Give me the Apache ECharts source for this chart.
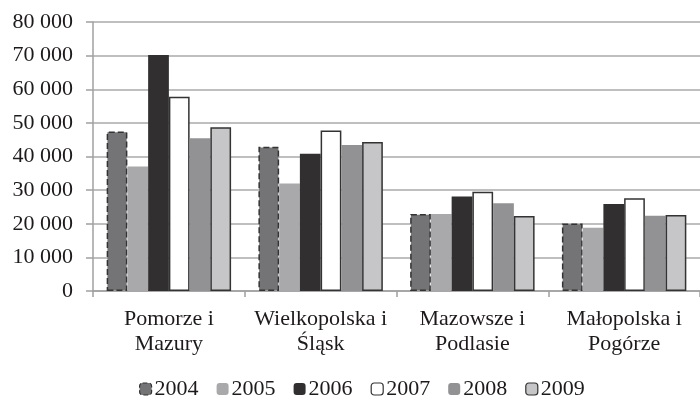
<!DOCTYPE html>
<html><head><meta charset="utf-8">
<script src="https://cdn.jsdelivr.net/npm/echarts@6/dist/echarts.min.js"></script>
<style>html,body{margin:0;padding:0;background:#fff}#c{width:700px;height:401px}</style>
</head><body><div id="c"></div>
<script>
const categories = ['Pomorze i\nMazury', 'Wielkopolska i\nŚląsk', 'Mazowsze i\nPodlasie', 'Małopolska i\nPogórze'];
const years = ['2004', '2005', '2006', '2007', '2008', '2009'];
const v2004 = [47400, 42900, 22900, 20100];
const v2005 = [37000, 32000, 22900, 18800];
const v2006 = [70200, 40800, 28100, 25900];
const v2007 = [57800, 47700, 29500, 27600];
const v2008 = [45400, 43400, 26100, 22400];
const v2009 = [48700, 44300, 22300, 22600];
const yTicks = [0, 10000, 20000, 30000, 40000, 50000, 60000, 70000, 80000];

const values = [v2004, v2005, v2006, v2007, v2008, v2009];
const colors = ['#747477', '#a9a9ab', '#312f30', '#ffffff', '#929295', '#c6c6c8'];
const borders = [
  {borderColor:'#333', borderWidth:1.5, borderType:'dashed'},
  {borderWidth:0},
  {borderWidth:0},
  {borderColor:'#333', borderWidth:1.5},
  {borderWidth:0},
  {borderColor:'#333', borderWidth:1.5}
];
const font = '"Liberation Serif", "Times New Roman", serif';
const txt = '#1e1a1b';
const chart = echarts.init(document.getElementById('c'), null, {renderer:'canvas'});
chart.setOption({
  animation: false,
  textStyle: {fontFamily: font},
  grid: {left: 93, top: 22, width: 613, bottom: 110, containLabel: false},
  legend: {
    left: 139, top: 378, padding: 0, itemWidth: 12, itemHeight: 12, itemGap: 18,
    textStyle: {fontFamily: font, fontSize: 22, color: txt, padding: [0,0,0,-2]},
    data: years.map((y,i) => ({name: y, itemStyle: Object.assign({color: colors[i]}, borders[i].borderWidth ? {borderColor:'#333', borderWidth:1.2, borderType: borders[i].borderType || 'solid'} : {})}))
  },
  xAxis: {
    type: 'category', data: categories,
    axisLine: {lineStyle: {color: '#a0a0a0', width: 1.5}},
    axisTick: {show: true, length: 6, lineStyle: {color: '#a0a0a0', width: 1.5}},
    axisLabel: {fontFamily: font, fontSize: 22, color: txt, lineHeight: 25, margin: 16, interval: 0}
  },
  yAxis: {
    type: 'value', min: yTicks[0], max: yTicks[yTicks.length-1], interval: 10000,
    axisLine: {show: true, lineStyle: {color: '#a0a0a0', width: 1.5}},
    axisTick: {show: true, length: 7, lineStyle: {color: '#a0a0a0', width: 1.5}},
    splitLine: {lineStyle: {color: '#aaaaaa', width: 1.5}},
    axisLabel: {fontFamily: font, fontSize: 22, color: txt, margin: 20,
      formatter: v => String(v).replace(/\B(?=(\d{3})+(?!\d))/g, ' ')}
  },
  series: years.map((y,i) => ({
    name: y, type: 'bar', data: values[i], barGap: '0%', barCategoryGap: '18%',
    itemStyle: Object.assign({color: colors[i]}, borders[i])
  }))
});
</script></body></html>
